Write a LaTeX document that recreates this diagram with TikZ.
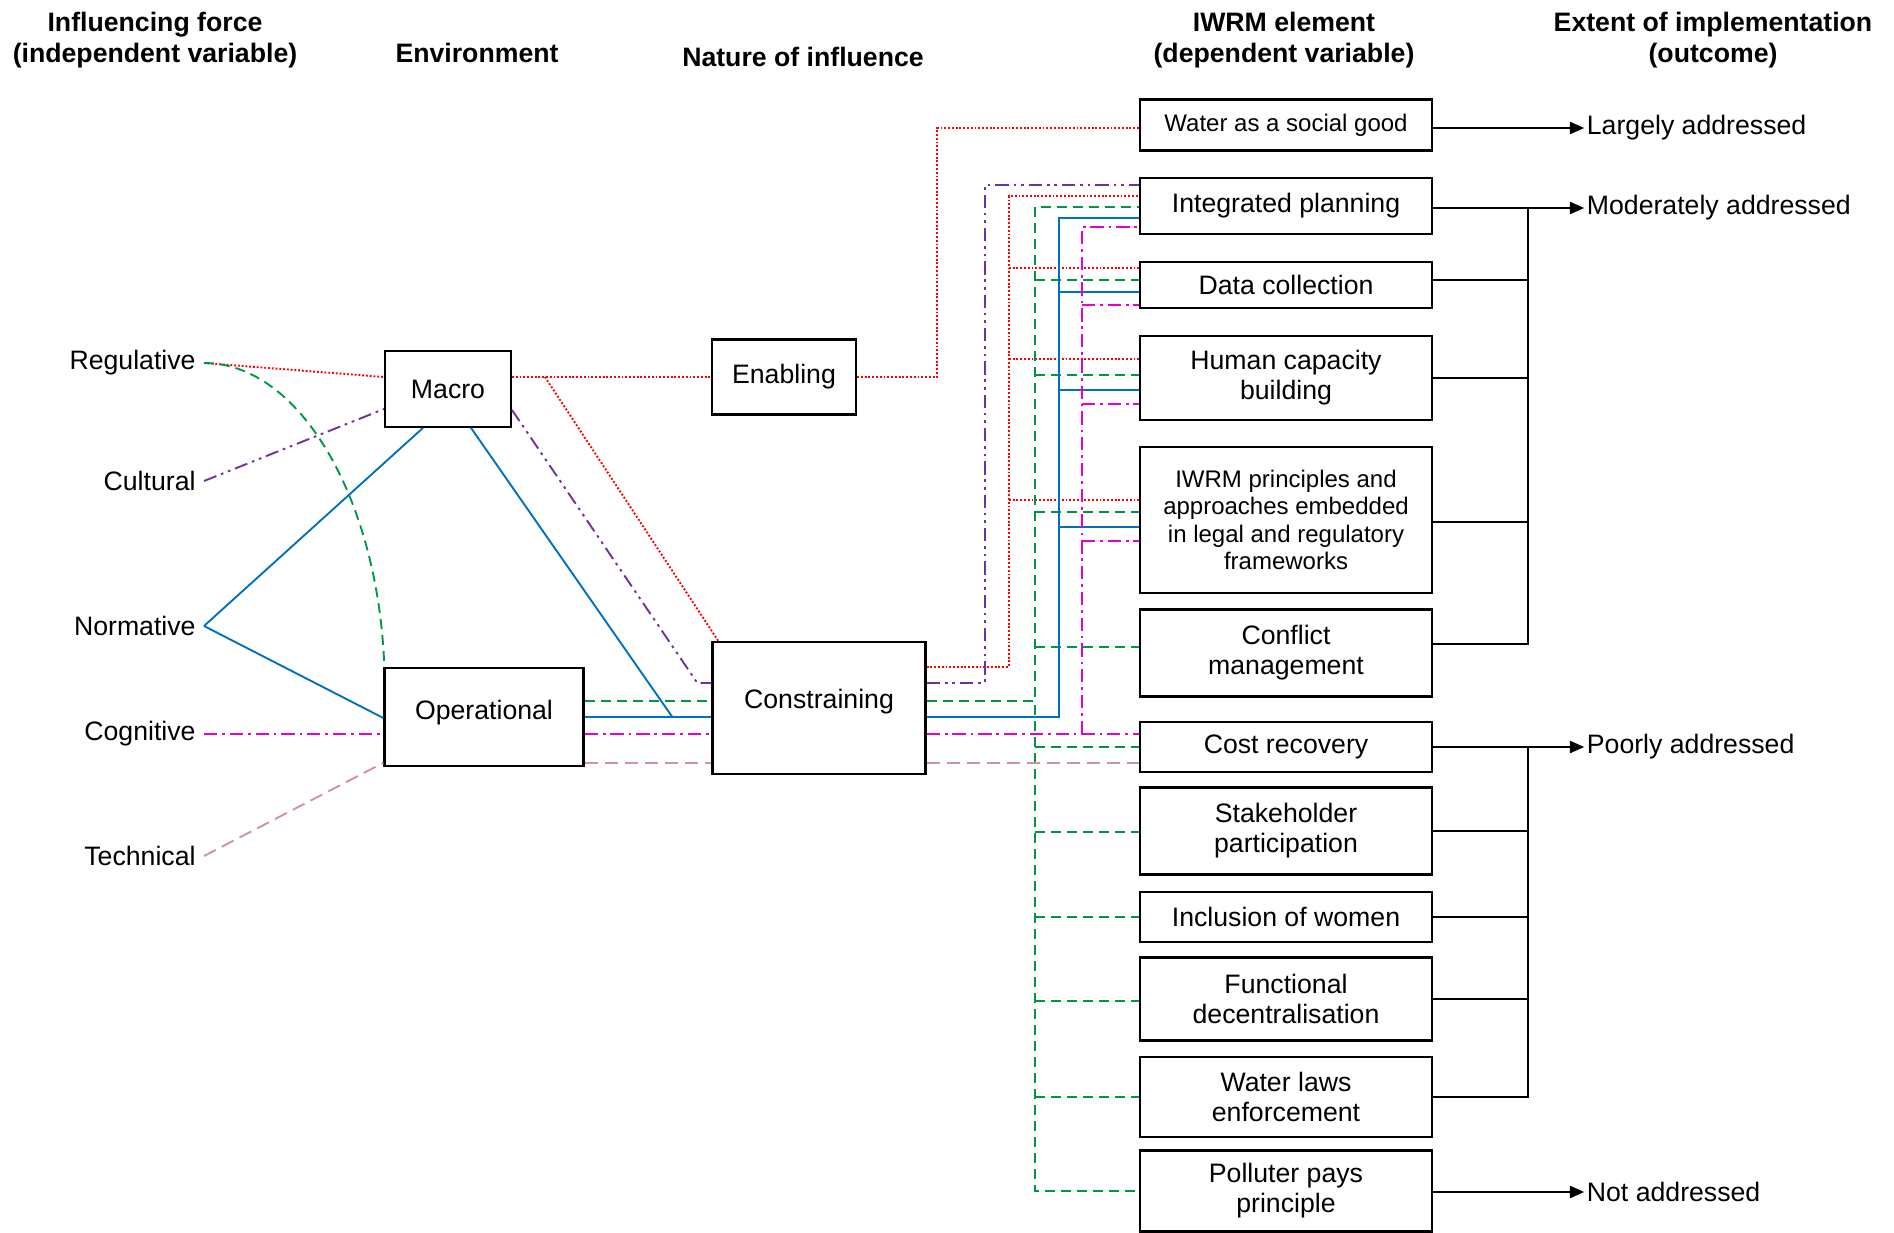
\documentclass[tikz,border=0pt]{standalone}
\usepackage{fontspec}
\setmainfont{Liberation Sans}
\usepackage{xcolor}
\usetikzlibrary{arrows.meta, positioning, calc}

\definecolor{regred}{RGB}{255,0,0}
\definecolor{culpurple}{RGB}{112,48,160}
\definecolor{reggreen}{RGB}{0,150,70}
\definecolor{normblue}{RGB}{0,112,192}
\definecolor{cogmag}{RGB}{230,0,200}
\definecolor{techrose}{RGB}{205,150,150}

\begin{document}
\begin{tikzpicture}[x=0.45pt, y=-0.45pt,
    every node/.style={font=\fontsize{12}{13.5}\selectfont},
    head/.style={font=\fontsize{12}{14.1}\selectfont\bfseries, align=center},
    force/.style={anchor=east, inner xsep=3.6pt, inner ysep=0pt},
    env/.style={draw, line width=1pt, align=center},
    elem/.style={draw, line width=1pt, align=center, minimum width=131.4pt},
    small/.style={font=\fontsize{10.8}{12.3}\selectfont},
    outc/.style={inner sep=1pt},
    blk/.style={line width=0.9pt},
    arr/.style={blk, -{Triangle[length=6.5pt, width=5.5pt]}},
    redl/.style={regred, line width=0.85pt, dash pattern=on 0.85pt off 0.85pt},
    purl/.style={culpurple, line width=0.85pt, dash pattern=on 6pt off 2.2pt on 1.2pt off 2.2pt on 1.2pt off 2.2pt},
    grnl/.style={reggreen, line width=0.85pt, dash pattern=on 4.5pt off 2.7pt},
    bluel/.style={normblue, line width=0.85pt},
    magl/.style={cogmag, line width=0.85pt, dash pattern=on 6pt off 2.2pt on 1.2pt off 2.2pt},
    brnl/.style={techrose, line width=0.85pt, dash pattern=on 6pt off 3pt}]
    \useasboundingbox (0,0) rectangle (1894,1233);

    \node[head] (hforce) at (155,40) {Influencing force\\(independent variable)};
    \node[head] (henv) at (477,53) {Environment};
    \node[head] (hnat) at (803,57) {Nature of influence};
    \node[head] (helem) at (1284,40) {IWRM element\\(dependent variable)};
    \node[head] (hext) at (1713,40) {Extent of implementation\\(outcome)};

    \node[force] (reg) at (204,363) {Regulative};
    \node[force] (cul) at (204,481) {Cultural};
    \node[force] (nor) at (204,626) {Normative};
    \node[force] (cog) at (204,734) {Cognitive};
    \node[force] (tec) at (204,856) {Technical};

    \node[env, minimum width=56.6pt, minimum height=34pt] (macro) at (448,389) {Macro};
    \node[env, minimum width=89.6pt, minimum height=43.8pt, text depth=6pt] (oper) at (484,717) {Operational};
    \node[env, minimum width=64.8pt, minimum height=33.75pt] (enab) at (784,377) {Enabling};
    \node[env, minimum width=95.9pt, minimum height=59.3pt, text depth=8pt] (cons) at (819,708) {Constraining};

    \node[elem, small, minimum height=23pt] (wsg) at (1286,125) {Water as a social good};
    \node[elem, minimum height=25.2pt] (ip) at (1286,206) {Integrated planning};
    \node[elem, minimum height=20.7pt] (dc) at (1286,285) {Data collection};
    \node[elem, minimum height=37.8pt] (hc) at (1286,378) {Human capacity\\building};
    \node[elem, small, minimum height=66pt] (iw) at (1286,520) {IWRM principles and\\approaches embedded\\in legal and regulatory\\frameworks};
    \node[elem, minimum height=39.2pt] (cm) at (1286,653) {Conflict\\management};
    \node[elem, minimum height=22.5pt] (cr) at (1286,747) {Cost recovery};
    \node[elem, minimum height=39.2pt] (sp) at (1286,831) {Stakeholder\\participation};
    \node[elem, minimum height=22.5pt] (iwo) at (1286,917) {Inclusion of women};
    \node[elem, minimum height=37.4pt] (fd) at (1286,999) {Functional\\decentralisation};
    \node[elem, minimum height=36pt] (wl) at (1286,1097) {Water laws\\enforcement};
    \node[elem, minimum height=36.5pt] (pp) at (1286,1191) {Polluter pays\\principle};

    \node[outc, right=68pt of wsg, yshift=-1.35pt] (larg) {Largely addressed};
    \node[outc, right=68pt of ip, yshift=-0.9pt] (modr) {Moderately addressed};
    \node[outc, right=68pt of cr] (poor) {Poorly addressed};
    \node[outc, right=68pt of pp, yshift=-0.45pt] (nota) {Not addressed};

    \draw[redl] (reg.east) -- (enab.west -| macro.west);
    \draw[redl] (enab.west -| macro.east) -- (enab.west);
    \draw[redl] ($(enab.west -| macro.east)+(33,0)$) -- ($(cons.north west)+(7,0)$);
    \draw[redl] (enab.east) -- ++(80,0) |- ($(wsg.west)+(0,3)$);
    \draw[redl] ($(cons.east)+(0,-41)$) -| ($(ip.west)+(-130,-10)$) -- ($(ip.west)+(0,-10)$);
    \foreach \b/\o in {dc/-17, hc/-19, iw/-20}
        \draw[redl] ($(\b.west)+(-130,\o)$) -- ($(\b.west)+(0,\o)$);

    \draw[purl] (cul.east) -- ($(macro.west)+(0,20)$);
    \draw[purl] ($(macro.east)+(0,21)$) -- ($(cons.west)+(-14,-25)$) -- ($(cons.west)+(0,-25)$);
    \draw[purl] ($(cons.east)+(0,-25)$) -| ($(ip.west)+(-154,-21)$) -- ($(ip.west)+(0,-21)$);

    \draw[grnl] (reg.east) .. controls +(96,0) and +(-6,-168) .. ($(oper.north west)+(1,0)$);
    \draw[grnl] ($(oper.east)+(0,-16)$) -- ($(oper.east -| cons.west)+(0,-16)$);
    \draw[grnl] ($(cons.east)+(0,-7)$) -| ($(ip.west)+(-104,1)$) -- ($(ip.west)+(0,1)$);
    \draw[grnl] ($(cons.east)+(0,-7)$) -| ($(pp.west)+(-104,0)$) -- (pp.west);
    \foreach \b/\o in {dc/-5, hc/-3, iw/-8, cm/-6, cr/0, sp/1, iwo/0, fd/2, wl/0}
        \draw[grnl] ($(\b.west)+(-104,\o)$) -- ($(\b.west)+(0,\o)$);

    \draw[bluel] (nor.east) -- ($(macro.south)+(-25,0)$);
    \draw[bluel] (nor.east) -- ($(oper.west)+(0,1)$);
    \draw[bluel] (oper.east) -- (oper.east -| cons.west);
    \draw[bluel] ($(macro.south)+(23,0)$) -- ($(oper.east -| cons.west)+(-39,0)$);
    \draw[bluel] (oper.east -| cons.east) -| ($(ip.west)+(-80,12)$) -- ($(ip.west)+(0,12)$);
    \foreach \b/\o in {dc/7, hc/12, iw/7}
        \draw[bluel] ($(\b.west)+(-80,\o)$) -- ($(\b.west)+(0,\o)$);

    \draw[magl] (cog.east) -- (cog.east -| oper.west);
    \draw[magl] (cog.east -| oper.east) -- (cog.east -| cons.west);
    \draw[magl] (cog.east -| cons.east) -- (cog.east -| cr.west);
    \draw[magl] ($(cog.east -| cr.west)+(-57,0)$) |- ($(ip.west)+(0,21)$);
    \foreach \b/\o in {dc/20, hc/26, iw/21}
        \draw[magl] ($(\b.west)+(-57,\o)$) -- ($(\b.west)+(0,\o)$);

    \coordinate (tq) at ($(oper.south west)+(0,-4)$);
    \draw[brnl] (tec.east) -- (tq);
    \draw[brnl] (tq -| oper.east) -- (tq -| cons.west);
    \draw[brnl] (tq -| cons.east) -- (tq -| cr.west);

    \draw[arr] (larg.west -| wsg.east) -- (larg.west);
    \draw[arr] (modr.west -| ip.east) -- (modr.west);
    \draw[arr] (poor.west -| cr.east) -- (poor.west);
    \draw[arr] (nota.west -| pp.east) -- (nota.west);
    \draw[blk] ($(cm.east)+(0,-9)$) -| ($(modr.west -| ip.east)+(95,0)$);
    \foreach \b/\o in {dc/-5, hc/0, iw/2}
        \draw[blk] ($(\b.east)+(0,\o)$) -- ($(\b.east)+(95,\o)$);
    \draw[blk] (wl.east) -| ($(cr.east)+(95,0)$);
    \foreach \b in {sp, iwo, fd}
        \draw[blk] (\b.east) -- ($(\b.east)+(95,0)$);
\end{tikzpicture}
\end{document}
